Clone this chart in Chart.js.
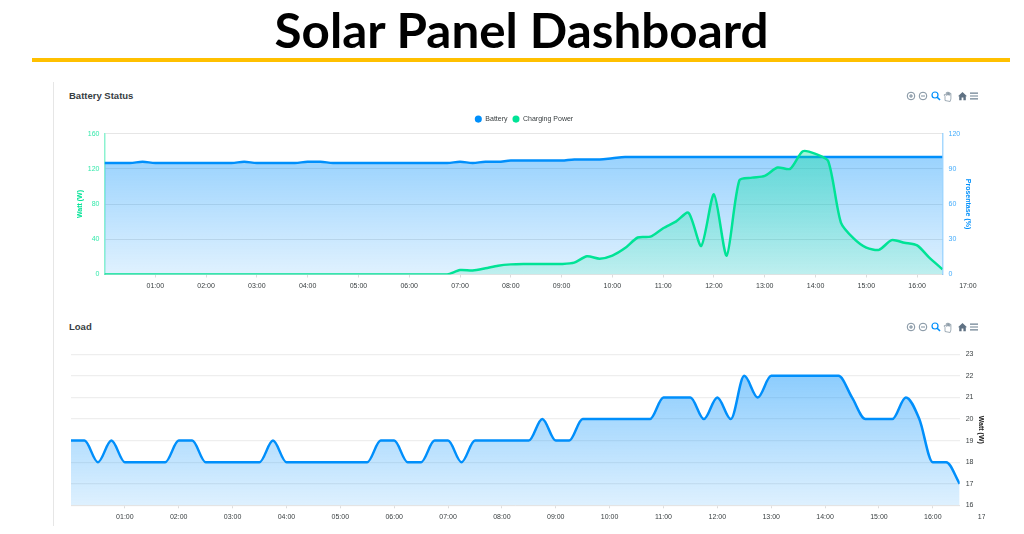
<!DOCTYPE html>
<html><head><meta charset="utf-8">
<style>
html,body{margin:0;padding:0;background:#fff;width:1024px;height:534px;overflow:hidden;font-family:"Liberation Sans",Arial,sans-serif}
#h{position:absolute;left:0;width:1043px;top:-1px;text-align:center;font:700 47px Lato,sans-serif;color:#000;line-height:62px;transform:scaleX(1.05);transform-origin:521.5px 0}
#rule{position:absolute;left:32px;top:58px;width:978px;height:4px;background:#FFC000}
#vr{position:absolute;left:53px;top:82px;width:1px;height:444px;background:#e6e6e6}
canvas{position:absolute;display:block;filter:blur(0.3px)}
.t{position:absolute;left:69px;font:700 9.5px "Liberation Sans",sans-serif;color:#373d3f;line-height:12px}
svg{position:absolute;left:905px;width:76px;height:12px}
</style></head><body>
<div id="h">Solar Panel Dashboard</div>
<div id="rule"></div><div id="vr"></div>
<div class="t" style="top:90px">Battery Status</div>
<div class="t" style="top:321px">Load</div>
<canvas id="c1" width="940" height="218" style="left:54px;top:82px"></canvas>
<canvas id="c2" width="931" height="215" style="left:54px;top:315px"></canvas>
<svg id="tb1" style="top:90px" viewBox="0 0 76 12"></svg>
<svg id="tb2" style="top:321px" viewBox="0 0 76 12"></svg>
<script src="https://cdn.jsdelivr.net/npm/chart.js@4/dist/chart.umd.js"></script>
<script>
const times = [
"00:00","00:15","00:30","00:45","01:00","01:15","01:30","01:45","02:00","02:15","02:30","02:45",
"03:00","03:15","03:30","03:45","04:00","04:15","04:30","04:45","05:00","05:15","05:30","05:45",
"06:00","06:15","06:30","06:45","07:00","07:15","07:30","07:45","08:00","08:15","08:30","08:45",
"09:00","09:15","09:30","09:45","10:00","10:15","10:30","10:45","11:00","11:15","11:30","11:45",
"12:00","12:15","12:30","12:45","13:00","13:15","13:30","13:45","14:00","14:15","14:30","14:45",
"15:00","15:15","15:30","15:45","16:00","16:15","16:30"];
const tickLabels = ["01:00","02:00","03:00","04:00","05:00","06:00","07:00","08:00","09:00","10:00","11:00","12:00","13:00","14:00","15:00","16:00","17:00"];
const battery = [
95,95,95,96, 95,95,95,95, 95,95,95,96, 95,95,95,95, 96,96,95,95, 95,95,95,95,
95,95,95,95, 96,95,96,96, 97,97,97,97, 97,98,98,98, 99,100,100,100,
100,100,100,100, 100,100,100,100, 100,100,100,100, 100,100,100,100, 100,100,100,100, 100,100,100];
const charging = [
0,0,0,0, 0,0,0,0, 0,0,0,0, 0,0,0,0, 0,0,0,0, 0,0,0,0, 0,0,0,0,
5,4.5,7,10, 11.5,12,12,12, 12,13.5,20.7,18, 21.5,30,42,43, 52.5,60,70,32.5,
91,21.5,107,110, 112,121.5,120,140, 137,128.7,59,41, 30.5,28,39,36, 33,18.5,6];
const load = [
19,19,18,19, 18,18,18,18, 19,19,18,18, 18,18,18,19, 18,18,18,18, 18,18,18,19,
19,18,18,19, 19,18,19,19, 19,19,19,20, 19,19,20,20, 20,20,20,20, 21,21,21,20,
21,20,22,21, 22,22,22,22, 22,22,21,20, 20,20,21,20, 18,18,17];

const hourOf = s => { const p = s.split(":"); return +p[0] + p[1] / 60; };
const series = vals => vals.map((v, i) => ({ x: hourOf(times[i]), y: v }));
const BLUE = "#008FFB", GREEN = "#00E396", TXT = "#373d3f";
const FONT = "'Liberation Sans', Arial, sans-serif";
const grad = (c0, c1) => ctx => {
  const a = ctx.chart.chartArea; if (!a) return c0;
  const g = ctx.chart.ctx.createLinearGradient(0, a.top, 0, a.bottom);
  g.addColorStop(0, c0); g.addColorStop(1, c1); return g;
};
const xAxis = {
  type: "linear", min: 0, max: 16.5,
  afterBuildTicks: s => { s.ticks = tickLabels.map(t => ({ value: hourOf(t) })); },
  grid: { drawOnChartArea: false, drawTicks: true, tickLength: 3,
          tickColor: c => (c.tick && c.tick.value > 16.5) ? "transparent" : "#dcdcdc" },
  border: { color: "#e4e4e4" },
  ticks: { autoSkip: false, maxRotation: 0, padding: 4.5, color: TXT, font: { size: 7, family: FONT },
           callback: v => tickLabels.find(t => hourOf(t) === v) || "" }
};
const fitX = h => s => { s.height = h; s.paddingLeft = 0; s.paddingRight = 0; };
const line = { pointRadius: 0, borderWidth: 2.5, cubicInterpolationMode: "monotone", fill: "origin" };
Chart.defaults.animation = false;

// keeps the legend's row tight while leaving the reference's gap above the plot
const legendGap = {
  id: "legendGap",
  beforeUpdate(chart) {
    const lg = chart.legend;
    if (lg && !lg._gapped) {
      const fit = lg.fit;
      lg.fit = function () { fit.call(this); this.height += 1; };
      lg._gapped = true;
    }
  }
};

new Chart(document.getElementById("c1"), {
  type: "line",
  plugins: [legendGap],
  data: { datasets: [
    { ...line, label: "Battery", data: series(battery), yAxisID: "yR", order: 2, borderColor: BLUE,
      backgroundColor: grad("rgba(0,143,251,0.45)", "rgba(0,143,251,0.12)") },
    { ...line, cubicInterpolationMode: "default", tension: 0.25, label: "Charging Power", data: series(charging), yAxisID: "yL", order: 1, borderColor: GREEN,
      backgroundColor: grad("rgba(0,227,150,0.4)", "rgba(0,227,150,0.15)") }
  ]},
  options: {
    responsive: false, devicePixelRatio: 1,
    layout: { padding: { top: 28.6 } },
    plugins: {
      tooltip: { enabled: false },
      legend: { position: "top", labels: {
        usePointStyle: true, boxHeight: 5, padding: 5, color: TXT, font: { size: 7, family: FONT },
        sort: (a, b) => a.datasetIndex - b.datasetIndex,
        generateLabels: ch => Chart.defaults.plugins.legend.labels.generateLabels(ch).map(l => {
          const c = ch.data.datasets[l.datasetIndex].borderColor;
          return { ...l, fillStyle: c, strokeStyle: c, lineWidth: 0, pointStyle: "circle" };
        })
      }}
    },
    scales: {
      x: { ...xAxis, afterFit: fitX(25.5) },
      yL: { position: "left", min: 0, max: 160,
        afterFit: s => { s.width = 50.5; },
        grid: { color: "#e6e6e6", drawTicks: false },
        border: { color: "rgba(0,227,150,0.45)", width: 1.5 },
        title: { display: true, text: "Watt (W)", color: GREEN, font: { size: 7, weight: "bold", family: FONT }, padding: { top: 21.8, bottom: 0 } },
        ticks: { stepSize: 40, color: "rgba(0,227,150,0.8)", padding: 5, font: { size: 7, family: FONT } } },
      yR: { position: "right", min: 0, max: 120,
        afterFit: s => { s.width = 51.5; },
        grid: { drawOnChartArea: false, drawTicks: false },
        border: { color: "rgba(0,143,251,0.35)", width: 1.5 },
        title: { display: true, text: "Prosentase (%)", color: BLUE, font: { size: 7, weight: "bold", family: FONT }, padding: { top: 22, bottom: 0 } },
        ticks: { stepSize: 30, color: "rgba(0,143,251,0.75)", padding: 6, font: { size: 7, family: FONT } } }
    }
  }
});

new Chart(document.getElementById("c2"), {
  type: "line",
  data: { datasets: [
    { ...line, label: "Load", data: series(load), yAxisID: "y", borderColor: BLUE,
      backgroundColor: grad("rgba(0,143,251,0.5)", "rgba(0,143,251,0.13)") }
  ]},
  options: {
    responsive: false, devicePixelRatio: 1,
    layout: { padding: { left: 17, top: 39.3 } },
    plugins: { legend: { display: false }, tooltip: { enabled: false } },
    scales: {
      x: { ...xAxis, afterFit: fitX(24.7) },
      y: { position: "right", min: 16, max: 23,
        afterFit: s => { s.width = 25.3; },
        grid: { color: "#eeeeee", lineWidth: 1.3, drawTicks: false },
        border: { display: false },
        title: { display: true, text: "Watt (W)", color: "#222", font: { size: 7, weight: "bold", family: FONT }, padding: { top: 0, bottom: 0 } },
        ticks: { stepSize: 1, color: TXT, padding: 6, font: { size: 7, family: FONT } } }
    }
  }
});

// toolbar icons
const icons = `
<g fill="none" stroke="#6e8192" stroke-width="0.9"><circle cx="6" cy="6" r="3.8"/><path d="M4 6h4M6 4v4"/></g>
<g fill="none" stroke="#6e8192" stroke-width="0.9"><circle cx="18" cy="6" r="3.8"/><path d="M16 6h4"/></g>
<g fill="none" stroke="#008FFB" stroke-width="1.2"><circle cx="30" cy="5" r="3"/><path d="M32.2 7.2l2.8 2.8" stroke-width="1.6"/></g>
<path d="M40 10.5V6.5L39 4.9l1.3-.6 1 1.2V2.6h1v2.6-3h1.2v3-2.6h1.2v2.8-2h1.2v5.5l-.8 2.6z" fill="#fff" stroke="#8a99a6" stroke-width="0.8"/>
<path d="M53 6.2L57.5 2 62 6.2h-1.2v4h-2.4V7.6h-1.8v2.6h-2.4v-4z" fill="#5f7183"/>
<path d="M65 3.2h8M65 6h8M65 8.8h8" stroke="#6e8192" stroke-width="1.2" fill="none"/>`;
document.getElementById("tb1").innerHTML = icons;
document.getElementById("tb2").innerHTML = icons;
</script>
</body></html>
